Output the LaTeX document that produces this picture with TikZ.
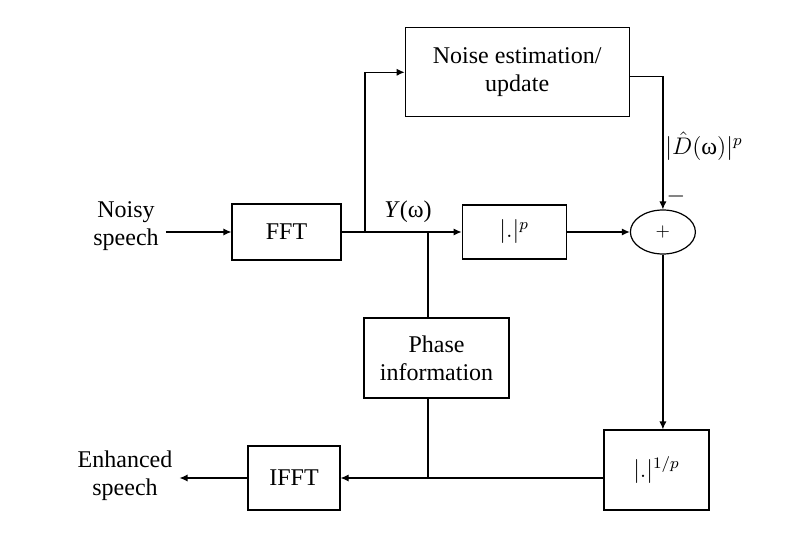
\documentclass[tikz,border=0pt]{standalone}
\usepackage{fontspec}
\setmainfont{Liberation Serif}
\usetikzlibrary{positioning, arrows.meta, shapes.geometric}

\begin{document}
\begin{tikzpicture}[line width=0.6pt, >={Latex[length=4pt,width=3.6pt]},
    font=\fontsize{12}{14}\selectfont,
    block/.style={draw, rectangle, align=center, inner sep=2pt}]

    \useasboundingbox (0,0) rectangle (396pt,268pt);

    % Forward path along the main line
    \node[block, minimum width=54.5pt, minimum height=28pt] (fft) at (143.25pt,152pt) {FFT};
    \node[block, minimum width=52pt, minimum height=27pt, right=60pt of fft] (power) {$|.|^{p}$};
    \node[draw, ellipse, minimum width=32.5pt, minimum height=22pt, inner sep=0pt, right=31.5pt of power] (sum) {\small$+$};

    % Noise estimate above the main line
    \node[block, minimum width=112pt, minimum height=44.5pt, above=43.5pt of power, xshift=1.5pt] (noise) {Noise estimation/\\update};

    % Phase and inverse path below
    \node[block, minimum width=72.5pt, minimum height=40pt] (phase) at (218.25pt,89pt) {Phase\\information};
    \node[block, minimum width=52.5pt, minimum height=40pt] (root) at (328.25pt,33pt) {$|.|^{1/p}$};
    \node[block, minimum width=46pt, minimum height=32pt] (ifft) at (147pt,29pt) {IFFT};

    % Input and output labels
    \node[align=center] (noisy) at (63pt,155pt) {Noisy\\speech};
    \node[align=center] (enhanced) at (62.5pt,30pt) {Enhanced\\speech};

    % Branch points on the main line
    \coordinate (split) at (182.5pt,152pt);
    \coordinate (tap) at (214pt,152pt);

    % Connectors
    \draw[->] (noisy.east |- fft) -- (fft.west);
    \draw[->] (fft.east) -- (power.west);
    \draw[->] (split) |- (noise.west);
    \draw[->] (power.east) -- (sum.west);
    \draw[->] ([yshift=-2pt]noise.east) -| (sum.north);
    \draw[->] (sum.south) -- (sum.south |- root.north);
    \draw (tap) -- (tap |- phase.north);
    \draw (phase.south -| tap) -- (tap |- ifft);
    \draw[->] (root.west |- ifft) -- (ifft.east);
    \draw[->] (ifft.west) -- (enhanced.east |- ifft);

    % Signal labels
    \node (ylabel) at (204pt,162pt) {\textit{Y}(ω)};
    \node[inner sep=1pt] (dlabel) at (352pt,195pt) {$|\hat{D}(\mbox{ω})|^{p}$};
    \node (minus) at (338pt,169.5pt) {$-$};

\end{tikzpicture}
\end{document}
